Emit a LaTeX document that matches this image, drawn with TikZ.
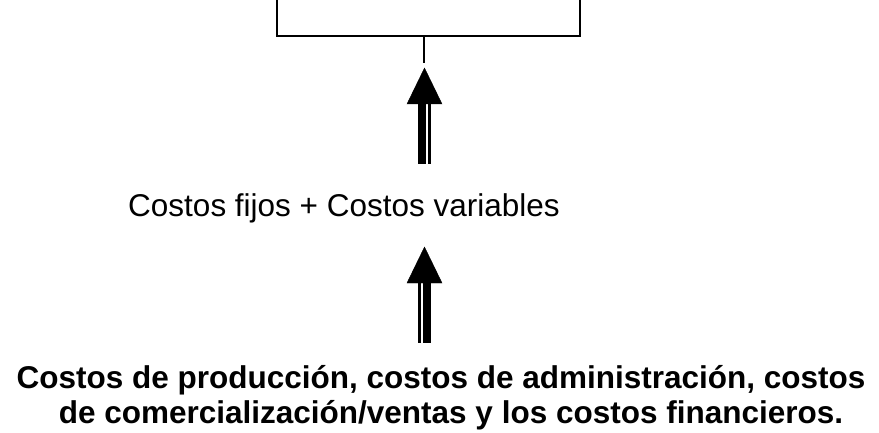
\documentclass[tikz,border=0pt]{standalone}
\usepackage{fontspec}
\setmainfont{Liberation Sans}
\tikzset{
  costlabel/.style={font=\fontsize{31.5}{35}\selectfont, inner sep=0pt, anchor=base},
  costlist/.style={font=\fontsize{31.5}{35}\selectfont\bfseries, inner sep=0pt, anchor=base},
}
\begin{document}
\begin{tikzpicture}[x=1pt, y=-1pt]
        \useasboundingbox (0,0) rectangle (879,433);

        % bracket
        \coordinate (bl) at (277,0);
        \coordinate (br) at (580,0);
        \coordinate (stub) at (424,36);
        \draw[black, line width=1.6pt] (bl) |- (stub) -| (br);
        \draw[black, line width=1.6pt] (stub) -- ++(0,27);

        % labels
        \node[costlabel] (fv) at (344,217) {Costos fijos + Costos variables};
        \node[costlist] (tiposA) at (441,388) {Costos de producción, costos de administración, costos};
        \node[costlist] (tiposB) at (451,423) {de comercialización/ventas y los costos financieros.};

        % upper arrow
        \filldraw[black] (424.5,68) -- (442,104) -- (407,104) -- cycle;
        \fill[black] (418,104) rectangle (426,164);
        \fill[black] (428,104) rectangle (430.5,164);

        % lower arrow
        \filldraw[black] (424.5,247) -- (442,283) -- (407,283) -- cycle;
        \fill[black] (418,283) rectangle (421,343);
        \fill[black] (423,283) rectangle (431,343);
    \end{tikzpicture}
\end{document}
